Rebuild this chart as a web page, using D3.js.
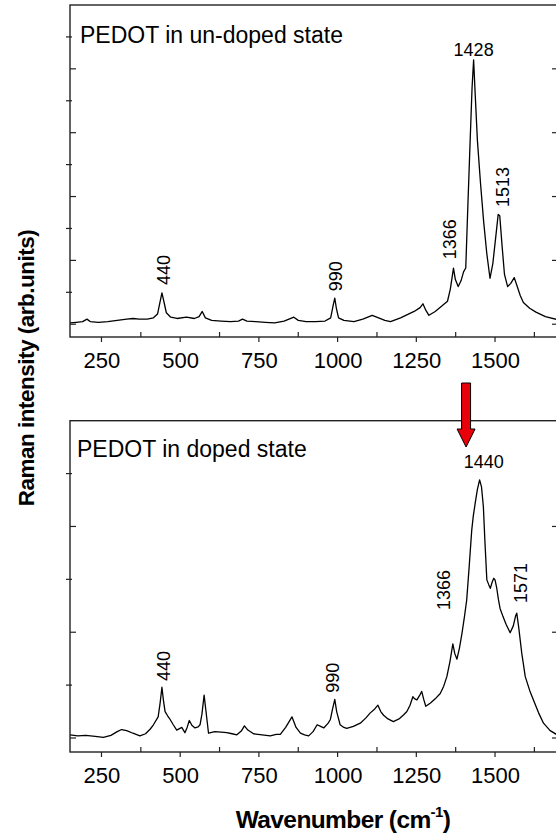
<!DOCTYPE html>
<html>
<head>
<meta charset="utf-8">
<script src="https://cdn.jsdelivr.net/npm/d3@7"></script>
<style>
  body { margin: 0; background: #fff; }
  text { font-family: "Liberation Sans", Arial, sans-serif; fill: #000; }
</style>
</head>
<body>
<script>
// wavenumber range and ticks
var xDomain = [150, 1700];
var xTickValues = [250, 375, 500, 625, 750, 875, 1000, 1125, 1250, 1375, 1500, 1625];
var xLabelValues = [250, 500, 750, 1000, 1250, 1500];

// arbitrary intensity units
var undopedTicks = [0, 0.5, 1, 1.5, 2, 2.5, 3, 3.5, 4, 4.5];
var dopedTicks = [0, 1, 2, 3, 4, 5];

var undoped = [
  [150,0.02],[170,0.03],[190,0.04],[204,0.08],[215,0.04],[240,0.03],[270,0.04],[300,0.06],
  [330,0.08],[350,0.09],[370,0.08],[395,0.08],[415,0.1],[428,0.16],[436,0.35],[442,0.49],
  [448,0.36],[456,0.18],[470,0.11],[490,0.09],[520,0.11],[545,0.09],[560,0.12],[570,0.2],
  [580,0.1],[600,0.06],[630,0.05],[660,0.04],[685,0.05],[698,0.08],[712,0.05],[740,0.04],
  [770,0.03],[800,0.02],[830,0.05],[861,0.11],[875,0.06],[900,0.04],[930,0.04],[960,0.05],
  [978,0.1],[986,0.3],[991,0.41],[996,0.25],[1003,0.1],[1020,0.06],[1052,0.04],[1080,0.08],
  [1110,0.14],[1130,0.1],[1150,0.06],[1168,0.04],[1200,0.1],[1243,0.2],[1262,0.26],[1271,0.32],
  [1280,0.22],[1290,0.14],[1310,0.2],[1330,0.28],[1349,0.36],[1358,0.55],[1368,0.88],[1374,0.7],
  [1383,0.59],[1392,0.68],[1400,0.82],[1407,0.88],[1414,1.9],[1421,2.88],[1427,3.7],[1432,4.14],
  [1437,3.6],[1444,2.88],[1454,2.2],[1464,1.6],[1474,1.1],[1484,0.72],[1493,0.95],[1503,1.4],
  [1510,1.72],[1515,1.7],[1522,1.25],[1530,0.78],[1540,0.59],[1550,0.64],[1561,0.73],[1570,0.6],
  [1580,0.45],[1590,0.34],[1610,0.25],[1630,0.19],[1660,0.12],[1700,0.07]
];

var doped = [
  [150,0.06],[175,0.04],[200,0.05],[230,0.03],[256,0.01],[280,0.05],[300,0.12],[314,0.16],
  [330,0.14],[350,0.09],[372,0.04],[390,0.08],[405,0.17],[415,0.25],[430,0.4],[436,0.65],
  [442,0.96],[447,0.7],[452,0.5],[460,0.42],[468,0.35],[478,0.25],[489,0.15],[505,0.2],
  [515,0.1],[522,0.2],[529,0.33],[537,0.24],[547,0.19],[557,0.21],[563,0.25],[569,0.45],
  [576,0.81],[582,0.5],[590,0.09],[610,0.12],[630,0.11],[648,0.1],[665,0.08],[680,0.06],
  [694,0.13],[704,0.23],[715,0.15],[733,0.08],[760,0.06],[786,0.04],[805,0.07],[818,0.07],
  [835,0.2],[855,0.4],[868,0.2],[882,0.09],[895,0.06],[908,0.04],[922,0.12],[935,0.25],
  [946,0.22],[956,0.19],[970,0.28],[977,0.35],[984,0.55],[991,0.73],[997,0.5],[1008,0.25],
  [1020,0.2],[1029,0.18],[1050,0.22],[1072,0.28],[1090,0.38],[1103,0.47],[1118,0.55],[1128,0.62],
  [1137,0.5],[1146,0.43],[1160,0.36],[1177,0.31],[1195,0.36],[1210,0.44],[1220,0.5],[1230,0.62],
  [1239,0.78],[1245,0.74],[1252,0.72],[1260,0.8],[1267,0.88],[1274,0.72],[1280,0.6],[1295,0.66],
  [1310,0.74],[1326,0.84],[1337,0.98],[1347,1.16],[1357,1.45],[1366,1.78],[1372,1.6],[1379,1.49],
  [1387,1.7],[1395,1.98],[1403,2.3],[1410,2.61],[1418,3.25],[1426,3.93],[1431,4.2],[1437,4.44],
  [1444,4.7],[1451,4.88],[1457,4.75],[1463,4.37],[1468,3.7],[1474,2.99],[1480,2.9],[1485,2.83],
  [1491,2.95],[1496,3.02],[1500,2.99],[1505,2.85],[1511,2.61],[1516,2.45],[1525,2.3],[1535,2.15],
  [1548,1.99],[1558,2.12],[1565,2.3],[1569,2.36],[1575,2.1],[1585,1.6],[1596,1.16],[1610,0.9],
  [1622,0.72],[1638,0.48],[1654,0.28],[1675,0.14],[1700,0.05]
];

// peak labels: text, wavenumber, intensity, rotated?
var undopedPeaks = [
  ['440', 446, 0.85, true], ['990', 993, 0.75, true], ['1366', 1356, 1.33, true],
  ['1428', 1432, 4.2, false], ['1513', 1524, 2.15, true]
];
var dopedPeaks = [
  ['440', 446, 1.36, true], ['990', 984, 1.14, true], ['1366', 1337, 2.8, true],
  ['1440', 1464, 5.1, false], ['1571', 1582, 2.93, true]
];
var arrowAt = 1408;

var width = 556, height = 840;
var left = 70, right = 558;

var svg = d3.select('body').append('svg')
  .attr('width', width)
  .attr('height', height);

var x = d3.scaleLinear().domain(xDomain).range([left, right]);

function panel(opts) {
  var y = d3.scaleLinear().domain(opts.yDomain).range([opts.bottom, opts.top]);
  var g = svg.append('g');

  // spectrum
  var line = d3.line()
    .x(function(d) { return x(d[0]); })
    .y(function(d) { return y(d[1]); });
  g.append('path')
    .datum(opts.data)
    .attr('fill', 'none')
    .attr('stroke', '#000')
    .attr('stroke-width', 1.3)
    .attr('stroke-linejoin', 'round')
    .attr('d', line);

  // frame
  g.append('rect')
    .attr('x', left).attr('y', opts.top)
    .attr('width', right - left).attr('height', opts.bottom - opts.top)
    .attr('fill', 'none').attr('stroke', '#222').attr('stroke-width', 1.4);

  // x ticks: labelled ones point down, others point in
  g.selectAll('.xt').data(xTickValues).enter().append('line')
    .attr('x1', function(d) { return x(d); }).attr('x2', function(d) { return x(d); })
    .attr('y1', opts.bottom)
    .attr('y2', function(d) { return xLabelValues.indexOf(d) >= 0 ? opts.bottom + 5 : opts.bottom - 5; })
    .attr('stroke', '#222').attr('stroke-width', 1.2);

  var xa = g.append('g')
    .attr('transform', 'translate(0,' + opts.bottom + ')')
    .call(d3.axisBottom(x).tickValues(xLabelValues).tickFormat(d3.format('d')).tickSize(0).tickPadding(15));
  xa.select('.domain').remove();
  xa.selectAll('text').attr('font-size', 22).attr('font-family', '"Liberation Sans", Arial, sans-serif');

  // y ticks, both sides
  opts.yTicks.forEach(function(t, i) {
    var major = i % 2 === 0;
    var yy = y(t);
    g.append('line')
      .attr('x1', major ? left : left - 4).attr('x2', major ? left + 6 : left + 2)
      .attr('y1', yy).attr('y2', yy).attr('stroke', '#222').attr('stroke-width', 1.2);
    g.append('line')
      .attr('x1', major ? right : right + 4).attr('x2', major ? right - 6 : right - 2)
      .attr('y1', yy).attr('y2', yy).attr('stroke', '#222').attr('stroke-width', 1.2);
  });

  // title
  g.append('text')
    .attr('x', opts.titleX).attr('y', opts.titleY)
    .attr('font-size', 23)
    .text(opts.title);

  // peak labels
  opts.peaks.forEach(function(p) {
    var px = x(p[1]), py = y(p[2]);
    var t = g.append('text').attr('font-size', 18).attr('text-anchor', 'middle').text(p[0]);
    if (p[3]) {
      t.attr('transform', 'translate(' + px + ',' + py + ') rotate(-90)').attr('dy', '0.35em');
    } else {
      t.attr('x', px).attr('y', py);
    }
  });
  return y;
}

panel({
  data: undoped, top: 5, bottom: 337, yDomain: [-0.2, 5], yTicks: undopedTicks,
  title: 'PEDOT in un-doped state', titleX: 80, titleY: 43, peaks: undopedPeaks
});
panel({
  data: doped, top: 420.7, bottom: 752, yDomain: [-0.265, 6], yTicks: dopedTicks,
  title: 'PEDOT in doped state', titleX: 77, titleY: 457, peaks: dopedPeaks
});

// red arrow between panels
var ax = x(arrowAt);
svg.append('path')
  .attr('d', 'M' + (ax - 4.5) + ',383 L' + (ax + 4.5) + ',383 L' + (ax + 4.5) + ',429 L' + (ax + 9) + ',429 L' +
    ax + ',447 L' + (ax - 9) + ',429 L' + (ax - 4.5) + ',429 Z')
  .attr('fill', '#e8000b')
  .attr('stroke', '#000')
  .attr('stroke-width', 1);

// axis titles
svg.append('text')
  .attr('transform', 'translate(34,368) rotate(-90)')
  .attr('text-anchor', 'middle')
  .attr('font-size', 22.5)
  .attr('font-weight', 'bold')
  .attr('letter-spacing', -0.5)
  .text('Raman intensity (arb.units)');

var xt = svg.append('text')
  .attr('x', 343).attr('y', 828)
  .attr('text-anchor', 'middle')
  .attr('font-size', 24.5)
  .attr('font-weight', 'bold')
  .attr('letter-spacing', -0.6);
xt.append('tspan').text('Wavenumber (cm');
xt.append('tspan').attr('font-size', 15).attr('dy', -11).text('-1');
xt.append('tspan').attr('dy', 11).text(')');
</script>
</body>
</html>
